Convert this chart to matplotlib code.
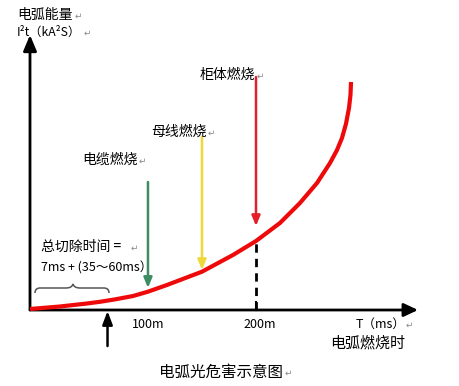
import matplotlib
matplotlib.use("Agg")
import matplotlib.pyplot as plt
import matplotlib.transforms as mtransforms
from matplotlib.path import Path
from matplotlib.patches import PathPatch

plt.rcParams['font.family'] = ['Noto Sans CJK SC', 'DejaVu Sans']

# ---------------- data ----------------
# arc energy curve (time in ms, energy in arbitrary units)
curve_t = [0.0, 26.5, 50.4, 61.9, 75.2, 91.2, 104.4, 121.2, 152.2, 179.6, 200.0,
           221.2, 238.9, 254.0, 265.5, 271.7, 276.1, 279.6, 282.3, 283.6, 284.1]
curve_e = [0.36, 1.25, 2.32, 2.93, 3.79, 5.0, 6.54, 8.93, 13.68, 19.64, 24.64,
           31.07, 38.21, 45.36, 52.5, 57.14, 61.43, 66.43, 72.14, 76.79, 81.43]

# burning events: label, time (ms), arrow start energy, arrow tip energy
event_labels = ['电缆燃烧', '母线燃烧', '柜体燃烧']
event_t = [104.4, 152.2, 200.0]
event_start = [45.7, 61.8, 83.2]
event_tip = [7.9, 14.3, 30.0]
event_colors = ['#3d8c62', '#eed83a', '#e3202a']

tick_labels = ['100m', '200m']
tick_label_t = [104.5, 203.5]
tick_t = 200.0
cut_time_t = 68.6       # total clearing time marker (7ms + 60ms)

# ---------------- layout ----------------
W, H = 459, 386
fig = plt.figure(figsize=(W / 100, H / 100), dpi=100)
ax = fig.add_axes([0, 0, 1, 1])
ax.set_axis_off()


def px2t(px):
    return (px - 30) / 1.13


def py2e(py):
    return (310 - py) / 2.8


ax.set_xlim(px2t(0), px2t(W))
ax.set_ylim(py2e(H), py2e(0))

PX = mtransforms.Affine2D().scale(1 / W, -1 / H).translate(0, 1) + fig.transFigure

# axes arrows
ax.annotate('', xy=(px2t(418), 0), xytext=(0, 0),
            arrowprops=dict(arrowstyle='-|>,head_length=0.85,head_width=0.4',
                            color='black', lw=2, shrinkA=0, shrinkB=0))
ax.annotate('', xy=(0, py2e(35)), xytext=(0, 0),
            arrowprops=dict(arrowstyle='-|>,head_length=0.95,head_width=0.4',
                            color='black', lw=2, shrinkA=0, shrinkB=0))

# tick at 200 ms
ax.plot([tick_t, tick_t], [0, py2e(302)], color='black', lw=1.5)

# dashed line below curve at 200ms
ax.plot([tick_t, tick_t], [0, curve_e[curve_t.index(tick_t)]], color='black',
        lw=2, ls=(0, (3, 2.2)))

# curve
ax.plot(curve_t, curve_e, color='#ee0a0a', lw=3.0, solid_capstyle='butt',
        solid_joinstyle='round', zorder=3)

# event arrows
for t, s, tip, c in zip(event_t, event_start, event_tip, event_colors):
    ax.annotate('', xy=(t, tip), xytext=(t, s),
                arrowprops=dict(arrowstyle='-|>,head_length=0.6,head_width=0.25',
                                color=c, lw=1.8, shrinkA=0, shrinkB=0),
                zorder=4)

# total clearing time arrow under axis
ax.annotate('', xy=(cut_time_t, py2e(311)), xytext=(cut_time_t, py2e(346)),
            arrowprops=dict(arrowstyle='-|>,head_length=0.8,head_width=0.3',
                            color='black', lw=1.8, shrinkA=0, shrinkB=0))

# brace
codes = [Path.MOVETO, Path.CURVE3, Path.CURVE3, Path.LINETO,
         Path.CURVE3, Path.CURVE3, Path.CURVE3, Path.CURVE3,
         Path.LINETO, Path.CURVE3, Path.CURVE3]
verts = [(35, 293), (35, 288), (40, 288), (66, 288),
         (72, 288), (73, 284), (74, 288), (80, 288),
         (104, 288), (109, 288), (109, 293)]
fig.add_artist(PathPatch(Path(verts, codes), transform=PX, fill=False,
                         edgecolor='#555555', lw=1.1))


# texts
def txt(x, y, s, size, ha='left', color='black'):
    fig.text(x, y, s, transform=PX, fontsize=size, ha=ha, va='center',
             color=color)


RET = '↵'
GRAY = '#8a8a8a'

txt(17, 15, '电弧能量', 10)
txt(75, 16, RET, 6.5, color=GRAY)
txt(17, 32, 'I²t（kA²S）', 8.8)
txt(84, 33, RET, 6.5, color=GRAY)

txt(82, 160, event_labels[0], 10)
txt(139, 161, RET, 6.5, color=GRAY)
txt(151, 132, event_labels[1], 10)
txt(208, 133, RET, 6.5, color=GRAY)
txt(200, 75, event_labels[2], 10)
txt(257, 76, RET, 6.5, color=GRAY)

txt(41, 247, '总切除时间 =', 10)
txt(131, 248, RET, 6.5, color=GRAY)
txt(41, 268, '7ms + (35～60ms）', 9)

for lab, t in zip(tick_labels, tick_label_t):
    ax.text(t, py2e(324), lab, fontsize=9, ha='center', va='center')

txt(356, 324, 'T（ms）', 9)
txt(406, 325, RET, 6.5, color=GRAY)
txt(330, 343, '电弧燃烧时', 10.8)
txt(159, 372, '电弧光危害示意图', 11.2)
txt(285, 373, RET, 6.5, color=GRAY)

fig.savefig('out.png', dpi=100, facecolor='white')
